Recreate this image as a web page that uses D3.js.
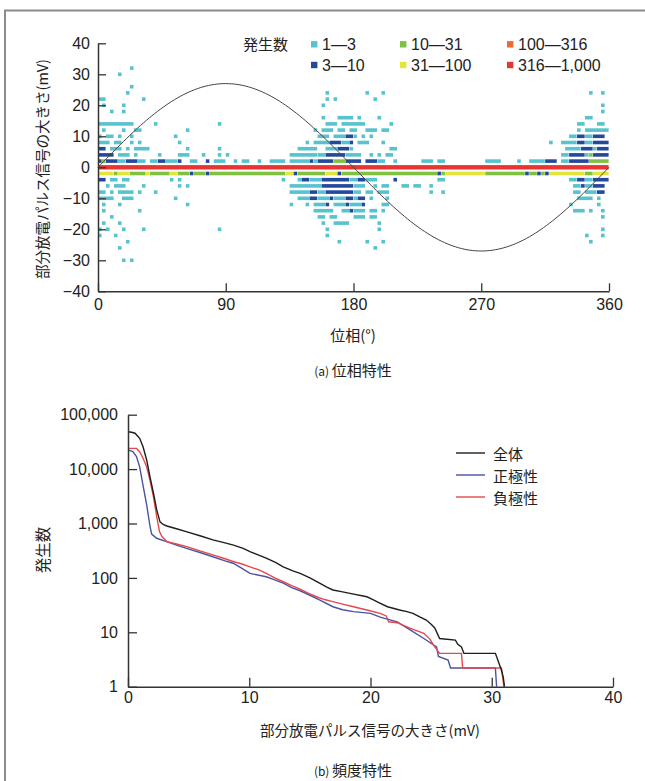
<!DOCTYPE html>
<html>
<head>
<meta charset="utf-8">
<script src="https://cdn.jsdelivr.net/npm/d3@7"></script>
<style>
  body { margin: 0; background: #fff; }
  text { font-family: "Liberation Sans", "Noto Sans CJK JP", sans-serif; fill: #222; }
  .jp { font-family: "Noto Sans CJK JP", sans-serif; }
</style>
</head>
<body>
<script>

// ---- (a) phase characteristic data ----
var phaseTicks = [0, 90, 180, 270, 360];
var mvTicks = [-40, -30, -20, -10, 0, 10, 20, 30, 40];
var phaseBins = 128;              // cells across 0-360 deg
var sineAmp = 27;                 // applied voltage waveform peak (mV scale)

var levelLabels = ["1\u20143", "3\u201410", "10\u201431", "31\u2014100", "100\u2014316", "316\u20141,000"];
var levelColors = ["#57c3ce", "#24489c", "#80c142", "#e5e43b", "#f06a2d", "#e7352f"];

// [mV row, first bin, last bin, level 1..6]
var cells = [
  [32,8,8,1],
  [30,5,5,1],
  [26,8,8,1],
  [24,7,7,1],[24,57,57,1],[24,67,67,1],[24,71,71,1],[24,123,123,1],[24,126,126,1],
  [22,0,1,1],[22,11,11,1],[22,57,57,1],[22,59,59,1],[22,69,69,1],
  [20,1,1,1],[20,6,6,1],[20,56,56,1],[20,126,126,1],
  [18,3,3,1],[18,6,6,1],[18,126,126,1],
  [16,56,56,1],[16,60,63,1],[16,65,65,1],[16,70,70,1],[16,122,123,1],
  [14,0,8,1],[14,14,14,1],[14,30,30,1],[14,57,59,1],[14,61,66,1],[14,73,73,1],[14,120,121,1],[14,125,126,1],
  [12,1,1,1],[12,6,6,1],[12,9,10,1],[12,22,22,1],[12,54,54,1],[12,56,58,1],[12,60,61,1],[12,63,64,1],[12,67,69,1],[12,71,72,1],[12,120,120,1],[12,122,127,1],
  [10,0,0,1],[10,2,3,1],[10,5,5,1],[10,8,8,1],[10,19,19,1],[10,55,57,1],[10,59,61,1],[10,62,63,2],[10,64,64,1],[10,66,66,1],[10,68,68,1],[10,118,119,1],[10,120,121,2],[10,122,123,1],[10,124,126,2],
  [8,0,2,1],[8,4,5,1],[8,8,8,1],[8,10,10,1],[8,20,20,1],[8,52,52,1],[8,54,57,1],[8,58,60,2],[8,61,62,1],[8,63,63,2],[8,65,67,1],[8,71,71,1],[8,113,113,1],[8,116,119,1],[8,120,121,2],[8,122,123,1],[8,124,127,2],
  [6,0,1,2],[6,3,5,1],[6,7,7,1],[6,9,12,1],[6,22,22,1],[6,30,30,1],[6,50,54,1],[6,57,59,1],[6,60,62,2],[6,63,63,1],[6,73,74,1],[6,117,120,1],[6,121,123,2],[6,124,124,1],[6,125,127,2],
  [4,0,3,2],[4,5,7,1],[4,9,9,1],[4,15,15,1],[4,20,22,1],[4,26,26,1],[4,30,30,1],[4,32,32,1],[4,48,54,1],[4,55,56,1],[4,57,61,2],[4,62,65,1],[4,68,68,1],[4,70,70,1],[4,72,73,1],[4,116,117,1],[4,118,121,2],[4,122,122,1],[4,123,123,3],[4,124,127,2],
  [2,0,0,2],[2,1,1,3],[2,2,4,2],[2,5,6,1],[2,7,9,2],[2,10,11,1],[2,13,14,1],[2,15,16,2],[2,17,19,1],[2,20,20,2],[2,23,24,1],[2,27,27,2],[2,29,31,1],[2,34,34,1],[2,36,37,1],[2,40,40,1],[2,43,46,1],[2,48,52,1],[2,53,53,2],[2,54,54,1],[2,55,58,2],[2,59,61,3],[2,62,65,2],[2,67,69,2],[2,70,71,1],[2,74,74,1],[2,81,83,1],[2,85,86,1],[2,97,100,1],[2,105,105,1],[2,108,111,1],[2,112,114,2],[2,116,117,1],[2,118,122,2],[2,123,127,3],
  [0,0,127,6],
  [-2,0,3,4],[-2,4,4,3],[-2,5,7,4],[-2,8,11,3],[-2,12,12,4],[-2,13,17,3],[-2,18,19,4],[-2,20,22,3],[-2,23,23,2],[-2,24,26,3],[-2,27,27,2],[-2,28,46,3],[-2,47,48,4],[-2,49,49,2],[-2,50,56,3],[-2,57,59,4],[-2,60,60,2],[-2,61,84,3],[-2,85,85,2],[-2,86,86,3],[-2,87,96,4],[-2,97,106,3],[-2,107,107,2],[-2,108,109,3],[-2,110,110,2],[-2,111,111,3],[-2,112,112,2],[-2,113,121,4],[-2,122,123,3],[-2,124,127,4],
  [-4,0,1,2],[-4,3,4,1],[-4,6,7,1],[-4,18,18,1],[-4,20,20,1],[-4,46,46,1],[-4,50,50,1],[-4,51,52,2],[-4,53,55,1],[-4,56,62,2],[-4,63,64,1],[-4,65,66,2],[-4,67,69,1],[-4,74,74,2],[-4,85,86,1],[-4,118,119,1],[-4,120,121,2],[-4,122,123,1],[-4,124,127,2],
  [-6,2,2,1],[-6,4,6,1],[-6,11,11,1],[-6,20,20,1],[-6,22,22,1],[-6,48,55,1],[-6,56,63,2],[-6,64,66,1],[-6,69,69,1],[-6,71,72,1],[-6,76,77,1],[-6,79,80,1],[-6,83,83,1],[-6,119,120,1],[-6,121,121,2],[-6,122,123,1],[-6,124,126,2],
  [-8,0,1,1],[-8,3,3,1],[-8,5,8,1],[-8,10,10,1],[-8,14,14,1],[-8,48,52,1],[-8,53,54,2],[-8,55,56,1],[-8,57,63,2],[-8,64,65,1],[-8,67,68,1],[-8,70,72,1],[-8,83,83,1],[-8,86,86,1],[-8,119,120,1],[-8,122,124,1],[-8,125,126,2],
  [-10,0,3,1],[-10,6,8,1],[-10,19,19,1],[-10,50,52,1],[-10,53,54,2],[-10,55,57,1],[-10,58,58,2],[-10,59,61,1],[-10,62,63,2],[-10,64,64,1],[-10,65,66,2],[-10,68,68,1],[-10,72,72,1],[-10,120,123,1],[-10,125,125,1],
  [-12,1,1,1],[-12,5,5,1],[-12,22,22,1],[-12,48,48,1],[-12,52,52,1],[-12,54,56,1],[-12,57,57,2],[-12,59,61,1],[-12,62,62,2],[-12,63,65,1],[-12,66,66,2],[-12,71,72,1],[-12,118,118,1],[-12,125,125,1],
  [-14,1,1,1],[-14,10,10,1],[-14,54,58,1],[-14,61,62,1],[-14,63,63,2],[-14,64,66,1],[-14,68,69,1],[-14,71,71,1],[-14,119,121,1],[-14,123,123,1],[-14,126,126,1],
  [-16,3,3,1],[-16,55,56,1],[-16,58,59,1],[-16,64,66,1],[-16,68,69,1],[-16,126,126,1],
  [-18,1,1,1],[-18,5,5,1],[-18,56,56,1],[-18,59,62,1],[-18,70,70,1],
  [-20,0,0,1],[-20,2,2,1],[-20,6,6,1],[-20,11,11,1],[-20,30,30,1],[-20,57,57,1],[-20,70,70,1],[-20,126,126,1],
  [-22,0,0,1],[-22,4,4,1],[-22,57,57,1],[-22,122,122,1],[-22,126,126,1],
  [-24,7,7,1],[-24,60,60,1],[-24,67,67,1],[-24,71,71,1],[-24,123,123,1],
  [-26,5,5,1],[-26,69,69,1],
  [-30,6,6,1],[-30,8,8,1]
];

// ---- (b) frequency characteristic data ----
var sizeTicks = [0, 10, 20, 30, 40];
var countTicks = [1, 10, 100, 1000, 10000, 100000];

var mvAll  = [0, 0.3, 0.58, 0.96, 1.24, 1.54, 1.81, 2.1, 2.37, 2.64, 2.9, 3.2, 4.0, 4.8, 6.0, 7.0, 8.0, 8.7, 9.5, 10.1, 11.4, 12.2, 12.8, 13.6, 14.2, 15.0, 15.8, 16.4, 16.9, 17.6, 18.3, 19.7, 20.2, 20.6, 21.4, 22.4, 23.0, 23.5, 24.1, 24.6, 25.0, 25.3, 25.7, 27.0, 27.2, 27.5, 27.7, 30.3, 30.5, 30.8, 30.95, 31.05];
var cntAll = [48700, 47500, 45700, 36800, 25700, 14700, 7240, 3600, 1780, 1070, 960, 900, 800, 710, 590, 500, 440, 400, 350, 302, 230, 190, 160, 135, 121, 100, 80, 68, 60, 56, 52, 45, 40, 36, 29.5, 25.7, 24, 22.3, 19, 16.8, 14, 12, 7.7, 7.2, 6, 5.4, 4.1, 4.1, 3.1, 2.0, 1.5, 1];

var mvPos  = [0, 0.4, 0.7, 0.96, 1.24, 1.54, 1.81, 1.95, 2.36, 3.18, 4.0, 4.84, 6.0, 7.0, 8.0, 8.67, 9.4, 10.06, 11.4, 12.1, 12.8, 13.5, 14.2, 15.0, 15.83, 16.9, 17.7, 18.6, 20.0, 20.8, 22.2, 23.3, 24.4, 25.45, 25.6, 26.4, 26.6, 30.3, 30.4];
var cntPos = [22500, 21000, 17000, 11000, 5000, 2200, 900, 640, 535, 465, 400, 350, 290, 245, 205, 186, 150, 121, 105, 92, 80, 66, 58, 48, 39, 29.5, 26, 24, 22.3, 19, 15.6, 11, 7.7, 5.4, 3.6, 3.1, 2.2, 2.2, 1];

var mvNeg  = [0, 0.7, 0.96, 1.24, 1.54, 1.81, 2.1, 2.37, 2.6, 2.8, 3.2, 4.0, 4.84, 6.0, 7.0, 8.0, 8.67, 9.4, 10.06, 10.8, 11.4, 12.1, 12.8, 13.5, 14.2, 14.9, 15.55, 16.2, 16.9, 17.7, 18.6, 19.7, 20.8, 21.3, 21.5, 22.2, 23.3, 24.4, 24.9, 25.2, 25.7, 27.5, 27.6, 30.8, 31.0];
var cntNeg = [24000, 24000, 20900, 15800, 11000, 6300, 3100, 1330, 710, 575, 465, 420, 375, 310, 265, 225, 200, 180, 160, 140, 121, 100, 85, 72, 62, 52, 45, 40, 36.6, 33, 29.5, 25.7, 22.3, 20, 15.6, 15, 11.8, 9.6, 7.5, 5.8, 4.1, 4.1, 2.2, 2.2, 1];

var seriesNames = ["全体", "正極性", "負極性"];
var seriesColors = ["#1e1e1e", "#4a52a3", "#e5484b"];


var svg = d3.select("body").append("svg")
  .attr("width", 645)
  .attr("height", 781);

// frame
svg.append("path")
  .attr("d", "M5,781V10.5H645")
  .attr("fill", "none")
  .attr("stroke", "#8c8c8c")
  .attr("stroke-width", 2);

drawPhase();
drawFrequency();


function styleAxis(g) {
  g.attr("font-family", null).attr("font-size", null);
  g.select(".domain").attr("stroke", "#333").attr("stroke-width", 1.5);
  g.selectAll(".tick line").attr("stroke", "#333").attr("stroke-width", 1.3);
  g.selectAll(".tick text").attr("fill", "#222").style("font-size", "16px");
}

function minusFmt(d) {
  return d < 0 ? "\u2212" + (-d) : "" + d;
}


function drawPhase() {

  var x0 = d3.scaleLinear().domain([0, 360]).range([98, 609]);
  var y0 = d3.scaleLinear().domain([-40, 40]).range([291.3, 43.3]);
  var binDeg = 360 / phaseBins;

  svg.append("g")
    .selectAll("rect")
    .data(cells)
    .enter()
    .append("rect")
    .attr("x", function(d) { return x0(d[1] * binDeg); })
    .attr("width", function(d) { return x0((d[2] + 1) * binDeg) - x0(d[1] * binDeg) - 0.4; })
    .attr("y", function(d) { return y0(d[0]) - (d[3] == 6 ? 2.2 : 1.8); })
    .attr("height", function(d) { return d[3] == 6 ? 4.4 : 3.6; })
    .attr("fill", function(d) { return levelColors[d[3] - 1]; });

  // applied voltage sine
  var sine = d3.line()
    .x(function(p) { return x0(p); })
    .y(function(p) { return y0(sineAmp * Math.sin(p * Math.PI / 180)); });

  svg.append("path")
    .attr("d", sine(d3.range(0, 361, 2)))
    .attr("fill", "none")
    .attr("stroke", "#444")
    .attr("stroke-width", 1);

  svg.append("g")
    .attr("transform", "translate(98,0)")
    .call(d3.axisLeft(y0).tickValues(mvTicks).tickSizeInner(-8).tickSizeOuter(0).tickPadding(8).tickFormat(minusFmt))
    .call(styleAxis);

  svg.append("g")
    .attr("transform", "translate(0,291.3)")
    .call(d3.axisBottom(x0).tickValues(phaseTicks).tickSizeInner(-8).tickSizeOuter(0).tickPadding(7))
    .call(styleAxis);

  svg.append("text")
    .attr("class", "jp")
    .attr("transform", "translate(41,169) rotate(-90)")
    .attr("text-anchor", "middle")
    .attr("dominant-baseline", "central")
    .style("font-size", "14.5px")
    .text("部分放電パルス信号の大きさ(mV)");

  svg.append("text")
    .attr("class", "jp")
    .attr("x", 353)
    .attr("y", 341)
    .attr("text-anchor", "middle")
    .style("font-size", "15px")
    .text("位相(°)");

  var cap = svg.append("text")
    .attr("class", "jp")
    .attr("x", 353)
    .attr("y", 376)
    .attr("text-anchor", "middle")
    .style("font-size", "15px");
  cap.append("tspan").style("font-size", "12px").text("(a) ");
  cap.append("tspan").text("位相特性");

  // legend
  svg.append("text")
    .attr("class", "jp")
    .attr("x", 243)
    .attr("y", 50)
    .style("font-size", "15px")
    .text("発生数");

  var colX = [311, 400, 507];
  var rowY = [44.3, 65];
  var leg = svg.append("g")
    .selectAll("g")
    .data(levelLabels)
    .enter()
    .append("g")
    .attr("transform", function(d, i) {
      return "translate(" + colX[Math.floor(i / 2)] + "," + rowY[i % 2] + ")";
    });

  leg.append("rect")
    .attr("x", 0).attr("y", -3.2)
    .attr("width", 6.4).attr("height", 6.4)
    .attr("fill", function(d, i) { return levelColors[i]; });

  leg.append("text")
    .attr("x", 11)
    .attr("y", 5.6)
    .style("font-size", "16px")
    .text(function(d) { return d; });
}


function drawFrequency() {

  var x1 = d3.scaleLinear().domain([0, 40]).range([128, 613]);
  var y1 = d3.scaleLog().domain([1, 100000]).range([686.7, 414.7]);

  var line = d3.line()
    .x(function(d) { return x1(d[0]); })
    .y(function(d) { return y1(d[1]); });

  var series = [d3.zip(mvAll, cntAll), d3.zip(mvPos, cntPos), d3.zip(mvNeg, cntNeg)];

  svg.append("g")
    .selectAll("path")
    .data([series[1], series[2], series[0]])
    .enter()
    .append("path")
    .attr("d", line)
    .attr("fill", "none")
    .attr("stroke", function(d, i) { return seriesColors[[1, 2, 0][i]]; })
    .attr("stroke-width", 1.4);

  svg.append("g")
    .attr("transform", "translate(128,0)")
    .call(d3.axisLeft(y1).tickValues(countTicks).tickSizeInner(-9).tickSizeOuter(0).tickPadding(10).tickFormat(d3.format(",")))
    .call(styleAxis);

  svg.append("g")
    .attr("transform", "translate(0,686.7)")
    .call(d3.axisBottom(x1).tickValues(sizeTicks).tickSizeInner(-9).tickSizeOuter(0).tickPadding(5))
    .call(styleAxis);

  svg.append("text")
    .attr("class", "jp")
    .attr("transform", "translate(42,550) rotate(-90)")
    .attr("text-anchor", "middle")
    .attr("dominant-baseline", "central")
    .style("font-size", "15.5px")
    .text("発生数");

  svg.append("text")
    .attr("class", "jp")
    .attr("x", 370)
    .attr("y", 736)
    .attr("text-anchor", "middle")
    .style("font-size", "14.5px")
    .text("部分放電パルス信号の大きさ(mV)");

  var cap = svg.append("text")
    .attr("class", "jp")
    .attr("x", 353)
    .attr("y", 776)
    .attr("text-anchor", "middle")
    .style("font-size", "15px");
  cap.append("tspan").style("font-size", "12px").text("(b) ");
  cap.append("tspan").text("頻度特性");

  var leg = svg.append("g")
    .selectAll("g")
    .data(seriesNames)
    .enter()
    .append("g")
    .attr("transform", function(d, i) { return "translate(456," + (453 + i * 22) + ")"; });

  leg.append("line")
    .attr("x1", 0).attr("x2", 29)
    .attr("stroke", function(d, i) { return seriesColors[i]; })
    .attr("stroke-width", 1.4);

  leg.append("text")
    .attr("class", "jp")
    .attr("x", 37)
    .attr("dominant-baseline", "central")
    .style("font-size", "15px")
    .text(function(d) { return d; });
}

</script>
</body>
</html>
